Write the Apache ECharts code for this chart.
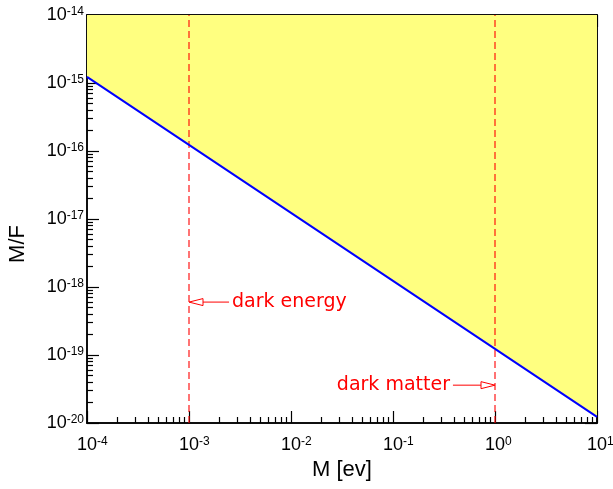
<!DOCTYPE html>
<html>
<head>
<meta charset="utf-8">
<script src="https://cdn.jsdelivr.net/npm/echarts@6/dist/echarts.min.js"></script>
<style>
  html, body { margin: 0; padding: 0; background: #fff; }
  #chart { width: 613px; height: 489px; }
</style>
</head>
<body>
<div id="chart"></div>
<script>
// Boundary line M/F versus mass M (eV), log-log
const massEv = [1e-4, 1e-3, 1e-2, 1e-1, 1, 10];
const boundMF = [1.23e-15, 1.23e-16, 1.23e-17, 1.23e-18, 1.23e-19, 1.23e-20];

// Axis ranges and decade ticks
const xRange = [1e-4, 10];
const yRange = [1e-20, 1e-14];
const xDecades = [1e-4, 1e-3, 1e-2, 1e-1, 1, 10];
const yDecades = [1e-20, 1e-19, 1e-18, 1e-17, 1e-16, 1e-15, 1e-14];
const minorSteps = [2, 3, 4, 5, 6, 7, 8, 9];

// Vertical reference masses
const markerMasses = [1e-3, 1];

// Arrow annotations: tail point, head point, text
const arrowText = ['dark energy', 'dark matter'];
const arrowTail = [[2.47e-3, 6.0e-19], [0.387, 3.6e-20]];
const arrowHead = [[1e-3, 6.0e-19], [1, 3.6e-20]];

function minorTicks(decades) {
  const out = [];
  decades.slice(0, -1).forEach(d => minorSteps.forEach(m => out.push(d * m)));
  return out;
}
const xMinor = minorTicks(xDecades);
const yMinor = minorTicks(yDecades);

const numFont = 'Liberation Sans';
const tickRich = {
  g: { fontSize: 12, color: 'rgba(0,0,0,0)', fontFamily: numFont },
  b: { fontSize: 18, color: '#000', fontFamily: numFont },
  s: { fontSize: 12, color: '#000', fontFamily: numFont, verticalAlign: 'top' }
};
function expOf(v) { return Math.round(Math.log10(v)); }

function frameAxis(position, range, ticks, tickLen, extra) {
  return Object.assign({
    type: 'log',
    logBase: 10,
    position: position,
    min: range[0],
    max: range[1],
    axisLine: { show: true, onZero: false, lineStyle: { color: '#000', width: 1.5 } },
    axisTick: { show: true, inside: true, length: tickLen, customValues: ticks,
                lineStyle: { color: '#000', width: 1.2 } },
    axisLabel: { show: false },
    splitLine: { show: false },
    minorTick: { show: false },
    minorSplitLine: { show: false }
  }, extra || {});
}

const xAxes = [
  frameAxis('bottom', xRange, xDecades, 12, {
    name: 'M [ev]',
    nameLocation: 'middle',
    nameGap: 25,
    nameTextStyle: { fontFamily: numFont, fontSize: 22, color: '#000' },
    axisLabel: {
      show: true, margin: 13, customValues: xDecades,
      formatter: v => { const e = expOf(v); return '{g|' + e + '}{b|10}{s|' + e + '}'; },
      rich: tickRich
    }
  }),
  frameAxis('bottom', xRange, xMinor, 6),
  frameAxis('top', xRange, xDecades, 12),
  frameAxis('top', xRange, xMinor, 6)
];

const yAxes = [
  frameAxis('left', yRange, yDecades, 12, {
    name: 'M/F',
    nameLocation: 'middle',
    nameGap: 58,
    nameRotate: 90,
    nameTextStyle: { fontFamily: numFont, fontSize: 22, color: '#000', padding: [0, 50, 0, 0] },
    axisLabel: {
      show: true, margin: 3, customValues: yDecades,
      formatter: v => '{b|10}{s|' + expOf(v) + '}',
      rich: tickRich
    }
  }),
  frameAxis('left', yRange, yMinor, 6),
  frameAxis('right', yRange, yDecades, 12),
  frameAxis('right', yRange, yMinor, 6)
];

const linePoints = massEv.map((m, i) => [m, boundMF[i]]);

// one dashed vertical series per reference mass, spanning the full y range
const markerSeries = markerMasses.map(m => ({
  type: 'line',
  xAxisIndex: 0, yAxisIndex: 0,
  data: [[m, yRange[0]], [m, yRange[1]]],
  showSymbol: false,
  silent: true,
  lineStyle: { color: 'rgba(255,0,0,0.55)', type: [7, 4], width: 2 },
  z: 3
}));

const chart = echarts.init(document.getElementById('chart'), null, { renderer: 'canvas' });
chart.setOption({
  animation: false,
  backgroundColor: '#fff',
  grid: { left: 87, top: 15, right: 16, bottom: 66, containLabel: false, outerBoundsMode: 'none' },
  xAxis: xAxes,
  yAxis: yAxes,
  series: [
    {
      // shaded excluded region above the boundary
      type: 'line',
      xAxisIndex: 0, yAxisIndex: 0,
      data: linePoints,
      showSymbol: false,
      silent: true,
      lineStyle: { width: 0, opacity: 0 },
      areaStyle: { color: '#ffff80', opacity: 1, origin: 'end' },
      z: 1
    },
    ...markerSeries,
    {
      type: 'line',
      xAxisIndex: 0, yAxisIndex: 0,
      data: linePoints,
      showSymbol: false,
      lineStyle: { color: '#0000ff', width: 2 },
      z: 10
    },
    {
      type: 'custom',
      xAxisIndex: 0, yAxisIndex: 0,
      z: 11,
      data: arrowText.map((t, i) => [arrowTail[i][0], arrowTail[i][1], arrowHead[i][0], arrowHead[i][1]]),
      encode: { x: [0, 2], y: [1, 3] },
      renderItem: (params, api) => {
        const a = api.coord([api.value(0), api.value(1)]);
        const b = api.coord([api.value(2), api.value(3)]);
        const dir = b[0] > a[0] ? 1 : -1;
        const headLen = 14, headHalf = 3.5;
        const bx = b[0] - dir * headLen;
        return {
          type: 'group',
          children: [
            { type: 'line', shape: { x1: a[0], y1: a[1], x2: bx, y2: b[1] },
              style: { stroke: '#ff0000', lineWidth: 1 } },
            { type: 'polygon', shape: { points: [[b[0], b[1]], [bx, b[1] - headHalf], [bx, b[1] + headHalf]] },
              style: { fill: '#fff', stroke: '#ff0000', lineWidth: 1 } },
            { type: 'text', x: a[0] - dir * 3, y: a[1],
              style: { text: arrowText[params.dataIndex], fill: '#ff0000',
                       font: '19px "DejaVu Sans"', align: dir > 0 ? 'right' : 'left', verticalAlign: 'middle' } }
          ]
        };
      }
    }
  ]
});
</script>
</body>
</html>
